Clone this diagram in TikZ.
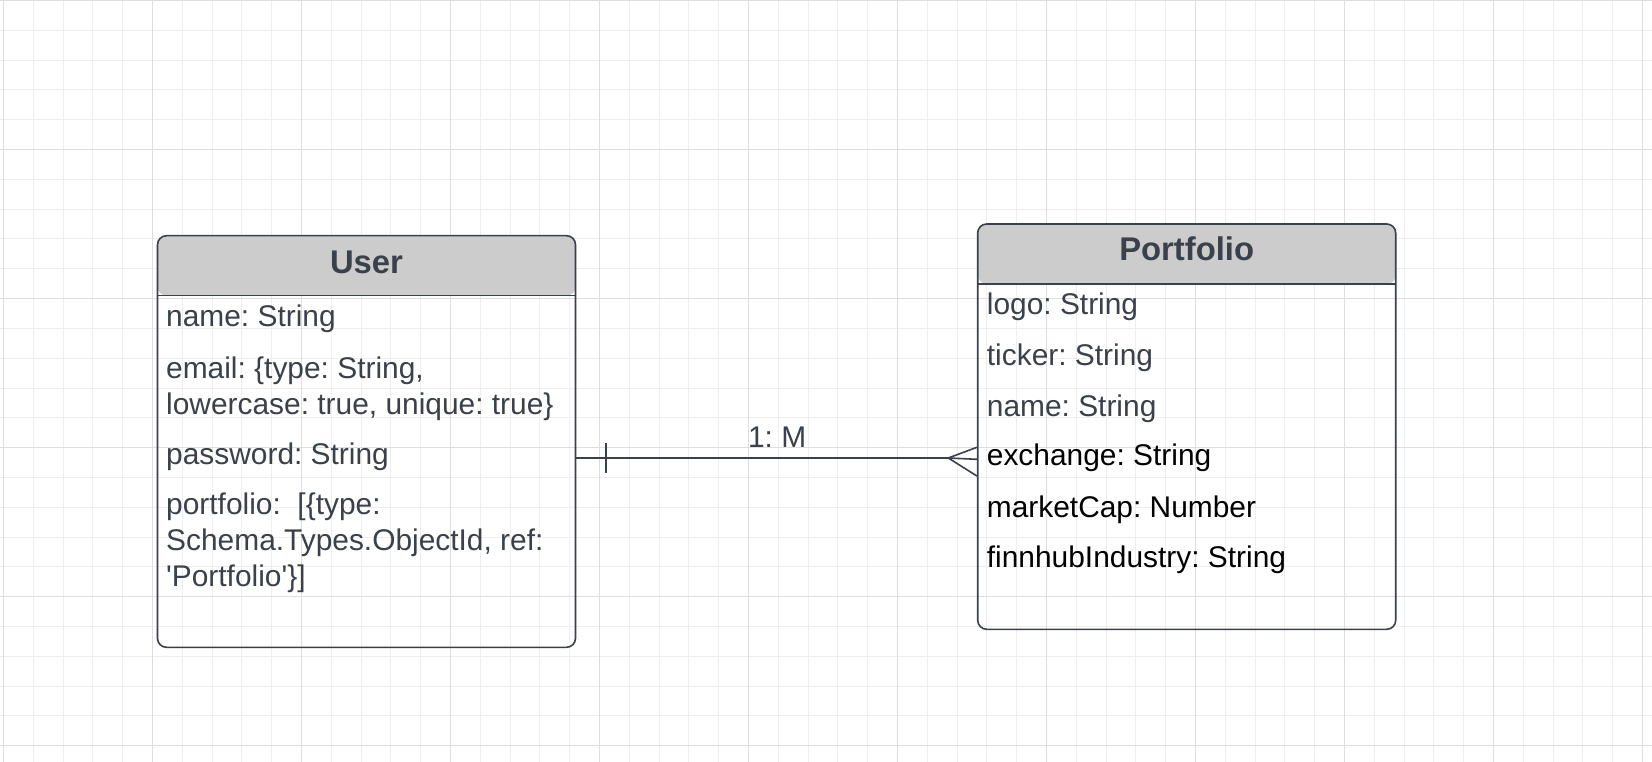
\documentclass[tikz,border=0pt]{standalone}
\usepackage{fontspec}
\setmainfont{Liberation Sans}
\frenchspacing

\definecolor{ink}{HTML}{3A414A}
\definecolor{headfill}{HTML}{CCCCCC}
\definecolor{gridminor}{HTML}{EEEEEE}
\definecolor{gridmajor}{HTML}{DEDEDE}

\begin{document}
\begin{tikzpicture}[x=1pt, y=-1pt,
    entity/.style={draw=ink, line width=1.6pt, rounded corners=9pt, inner sep=0pt,
                   minimum width=418pt,
                   path picture={\fill[headfill] (path picture bounding box.north west)
                                   rectangle ([yshift=-60pt]path picture bounding box.north east);
                                 \draw[ink, line width=1.2pt] ([yshift=-60pt]path picture bounding box.north west)
                                   -- ([yshift=-60pt]path picture bounding box.north east);}},
    head/.style={font=\fontsize{32.8}{36}\selectfont\bfseries, text=ink, anchor=base, inner sep=0pt},
    field/.style={font=\fontsize{29.9}{36}\selectfont, text=ink, anchor=base west, inner sep=0pt},
    plainfield/.style={field, text=black},
    rel/.style={draw=ink, line width=1.6pt}]

\useasboundingbox (0,0) rectangle (1652,762);
\fill[white] (0,0) rectangle (1652,762);
% background grid
\foreach \i in {0,...,55} \draw[gridminor, line width=1pt] (3.5+29.8*\i,0) -- (3.5+29.8*\i,762);
\foreach \i in {0,...,25} \draw[gridminor, line width=1pt] (0,0.6+29.8*\i) -- (1652,0.6+29.8*\i);
\foreach \i in {0,...,11} \draw[gridmajor, line width=1.3pt] (3.5+149*\i,0) -- (3.5+149*\i,762);
\foreach \i in {0,...,5} \draw[gridmajor, line width=1.3pt] (0,0.6+149*\i) -- (1652,0.6+149*\i);

% entities
\node[entity, minimum height=411.6pt] (user) at (366.5,441.5) {};
\node[entity, minimum height=405.3pt] (portfolio) at (1186.7,426.65) {};

\node[head] (usertitle) at (366.5,273.3) {User};
\node[field] (uname) at (166,326.7) {name: String};
\node[field] (uemail) at (166,378.3) {email: \{type: String,};
\node[field] (uemailb) at (166,414.3) {lowercase: true, unique: true\}};
\node[field] (upass) at (166,464.3) {password: String};
\node[field] (uport) at (166,514.3) {portfolio:\ \ [\{type:};
\node[field] (uportb) at (166,550) {Schema.Types.ObjectId, ref:};
\node[field] (uportc) at (166,586) {\textquotesingle Portfolio\textquotesingle\}]};

\node[head] (porttitle) at (1186.7,260) {Portfolio};
\node[field] (plogo) at (986.7,314.3) {logo: String};
\node[field] (pticker) at (986.7,365.7) {ticker: String};
\node[field] (pname) at (986.7,416) {name: String};
\node[plainfield] (pexch) at (986.7,465.7) {exchange: String};
\node[plainfield] (pcap) at (986.7,517) {marketCap: Number};
\node[plainfield] (pind) at (986.7,567.7) {finnhubIndustry: String};

% relationship
\coordinate (foot) at (948.3,458);
\draw[rel] ([yshift=-16.5pt]user.east) -- node[field, anchor=base, above=10pt, pos=0.54] (card) {1: M} (foot);
\draw[rel] (605.7,442.7) -- (605.7,472.7);
\draw[rel] (foot) -- (portfolio.west |- 0,447.3);
\draw[rel] (foot) -- (portfolio.west |- 0,459.3);
\draw[rel] (foot) -- (portfolio.west |- 0,476);
\end{tikzpicture}
\end{document}
